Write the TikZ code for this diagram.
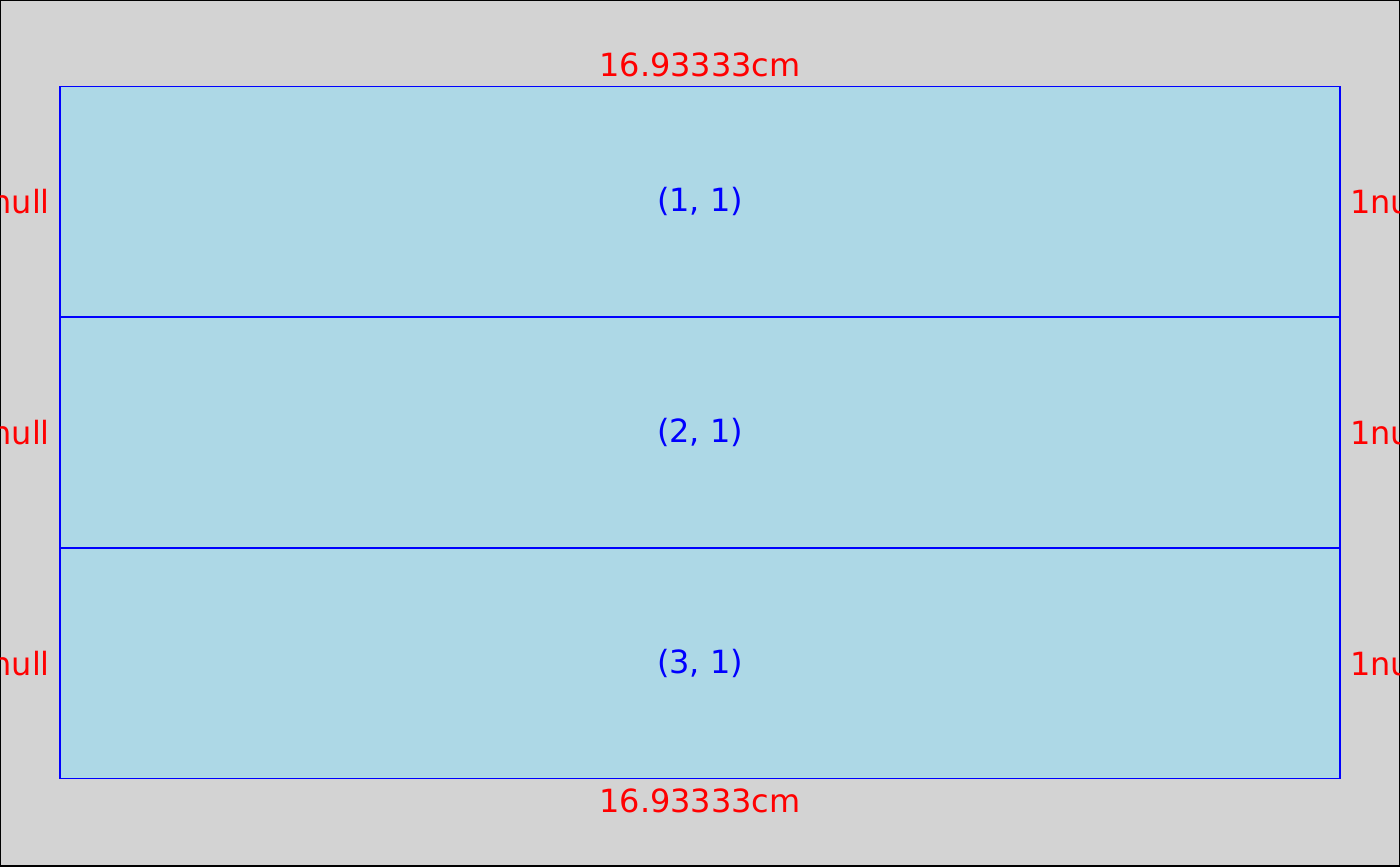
\documentclass[tikz,border=0pt]{standalone}
\usepackage{fontspec}
\setmainfont{DejaVu Sans}
\usetikzlibrary{positioning}
\definecolor{PanelGray}{HTML}{D3D3D3}
\definecolor{CellBlue}{HTML}{ADD8E6}

\begin{document}
\begin{tikzpicture}[x=0.02cm,y=-0.02cm,
    cell/.style={draw=blue,fill=CellBlue,line width=1pt,minimum width=25.6cm,minimum height=4.615cm,inner sep=0pt,outer sep=0pt,text=blue,font=\fontsize{18.2}{20}\selectfont},
    dimlabel/.style={text=red,inner sep=0pt,font=\fontsize{18.2}{20}\selectfont}]
  \clip (0,0) rectangle (1400,866);
  \draw[fill=PanelGray,line width=1.2pt] (0,0) rectangle (1400,866);
  % the three rows of the layout
  \node[cell] (r1) at (700,201.75) {(1, 1)};
  \node[cell,below=0pt of r1] (r2) {(2, 1)};
  \node[cell,below=0pt of r2] (r3) {(3, 1)};
  % widths
  \node[dimlabel,above=0.18cm of r1] (wtop) {16.93333cm};
  \node[dimlabel,below=0.2cm of r3] (wbot) {16.93333cm};
  % heights
  \node[dimlabel,left=0.2cm of r1] (h1l) {1null};
  \node[dimlabel,left=0.2cm of r2] (h2l) {1null};
  \node[dimlabel,left=0.2cm of r3] (h3l) {1null};
  \node[dimlabel,right=0.2cm of r1] (h1r) {1null};
  \node[dimlabel,right=0.2cm of r2] (h2r) {1null};
  \node[dimlabel,right=0.2cm of r3] (h3r) {1null};
\end{tikzpicture}
\end{document}
